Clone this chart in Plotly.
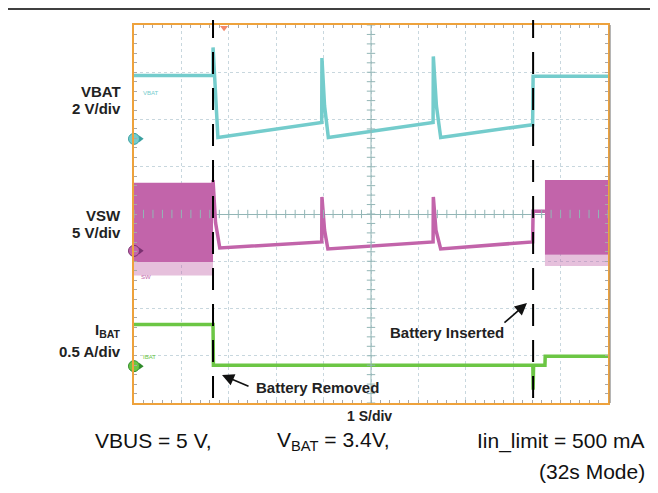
import plotly.graph_objects as go

# ---------------- data (time in s, 1 S/div, 10 div) ----------------
# channel settings: volts (or amps) per division and ground offset (divisions from centre)
VBAT_SCALE, VBAT_OFFSET = 2.0, 1.59
VSW_SCALE, VSW_OFFSET = 5.0, -0.78
IBAT_SCALE, IBAT_OFFSET = 0.5, -3.22

vbat_t = [0.0, 1.667, 1.668, 1.72, 1.77, 3.96, 3.965, 4.02, 4.10, 6.31, 6.315, 6.38, 6.47, 8.41, 8.42, 10.0]
vbat_v = [2.68, 2.68, 3.87, 1.60, 0.06, 0.69, 3.42, 1.40, 0.06, 0.69, 3.49, 1.40, 0.06, 0.60, 2.65, 2.65]

vsw_t = [1.667, 1.72, 1.81, 3.96, 3.965, 4.02, 4.09, 6.31, 6.315, 6.37, 6.47, 8.41, 8.42, 8.67]
vsw_v = [7.5, 3.0, 0.30, 0.95, 5.7, 2.2, 0.20, 0.95, 5.7, 2.2, 0.20, 0.95, 4.2, 4.2]

# switching bands (before removal / after insertion)
band1_t = [0.0, 1.667]
band1_hi = [7.2, 7.2]
band1_lo = [-1.17, -1.17]
band1_rag = [-2.6, -2.6]
band2_t = [8.67, 10.0]
band2_hi = [7.5, 7.5]
band2_lo = [-0.42, -0.42]
band2_rag = [-1.6, -1.6]

ibat_t = [0.0, 1.667, 1.675, 8.415, 8.42, 8.43, 8.67, 8.675, 10.0]
ibat_a = [0.44, 0.44, 0.01, 0.01, -0.25, 0.01, 0.01, 0.105, 0.105]

removed_t = 1.667
inserted_t = 8.42
trigger_t = 1.9

CYAN = "#74cccc"
MAGENTA = "#c264aa"
GREEN = "#6cc644"
ORANGE = "#eea23c"
FONT = "Liberation Sans, Arial, sans-serif"


def to_div(vals, scale, offset):
    return [offset + v / scale for v in vals]


fig = go.Figure()


def band(t, hi, lo, color, opacity):
    xs = list(t) + list(t)[::-1]
    ys = to_div(hi, VSW_SCALE, VSW_OFFSET) + to_div(lo, VSW_SCALE, VSW_OFFSET)[::-1]
    fig.add_trace(go.Scatter(x=xs, y=ys, fill="toself", mode="lines", line=dict(width=0),
                             fillcolor=color, opacity=opacity, hoverinfo="skip", showlegend=False))


band(band1_t, band1_lo, band1_rag, MAGENTA, 0.4)
band(band1_t, band1_hi, band1_lo, MAGENTA, 1.0)
band(band2_t, band2_lo, band2_rag, MAGENTA, 0.4)
band(band2_t, band2_hi, band2_lo, MAGENTA, 1.0)

fig.add_trace(go.Scatter(x=vsw_t, y=to_div(vsw_v, VSW_SCALE, VSW_OFFSET), mode="lines",
                         line=dict(color=MAGENTA, width=3.5), name="VSW", showlegend=False))
fig.add_trace(go.Scatter(x=vbat_t, y=to_div(vbat_v, VBAT_SCALE, VBAT_OFFSET), mode="lines",
                         line=dict(color=CYAN, width=3.5), name="VBAT", showlegend=False))
fig.add_trace(go.Scatter(x=ibat_t, y=to_div(ibat_a, IBAT_SCALE, IBAT_OFFSET), mode="lines",
                         line=dict(color=GREEN, width=3.5), name="IBAT", showlegend=False))

# centre-line minor ticks (graticule decoration)
CENTER = "#93b6b6"
minor_x = [i * 0.2 for i in range(51)]
minor_y = [-4 + i * 0.2 for i in range(41)]
fig.add_trace(go.Scatter(x=minor_x, y=[0] * len(minor_x), mode="markers",
                         marker=dict(symbol="line-ns", size=6, line=dict(color=CENTER, width=1)),
                         hoverinfo="skip", showlegend=False))
fig.add_trace(go.Scatter(x=[5] * len(minor_y), y=minor_y, mode="markers",
                         marker=dict(symbol="line-ew", size=6, line=dict(color=CENTER, width=1)),
                         hoverinfo="skip", showlegend=False))

# ground markers (on the left graticule edge)
for off, col, dark in [(VBAT_OFFSET, CYAN, "#3aa0a0"), (VSW_OFFSET, MAGENTA, "#7a3070"),
                       (IBAT_OFFSET, GREEN, "#2f8a2a")]:
    fig.add_trace(go.Scatter(x=[0.14], y=[off], mode="markers", cliponaxis=False,
                             marker=dict(symbol="triangle-right", size=6, color=dark),
                             hoverinfo="skip", showlegend=False))
    fig.add_trace(go.Scatter(x=[0.0], y=[off], mode="markers", cliponaxis=False,
                             marker=dict(symbol="circle", size=11, color=col, line=dict(color=dark, width=1)),
                             hoverinfo="skip", showlegend=False))

# trigger marker
fig.add_trace(go.Scatter(x=[trigger_t], y=[3.94], mode="markers", cliponaxis=False,
                         marker=dict(symbol="triangle-down", size=7, color="#f2876a"),
                         hoverinfo="skip", showlegend=False))

shapes = [
    dict(type="line", xref="x", yref="paper", x0=5, x1=5, y0=0, y1=1, line=dict(color=CENTER, width=1)),
    dict(type="line", xref="x", yref="paper", x0=removed_t, x1=removed_t, y0=0.013, y1=1.013,
         line=dict(color="black", width=2, dash="22px,14px")),
    dict(type="line", xref="x", yref="paper", x0=inserted_t, x1=inserted_t, y0=0.013, y1=1.013,
         line=dict(color="black", width=2, dash="22px,14px")),
    dict(type="line", xref="paper", yref="paper", x0=-0.27, x1=1.1055, y0=1.0423, y1=1.0423,
         line=dict(color="black", width=1.5)),
    dict(type="line", xref="paper", yref="paper", x0=1.0045, x1=1.0045, y0=0, y1=1,
         line=dict(color="#8a8a8a", width=1)),
]

ann = []


def lab(text, x, y, size, xanchor="right", color="#222222"):
    ann.append(dict(text=text, x=x, y=y, xref="paper", yref="paper", showarrow=False,
                    xanchor=xanchor, yanchor="middle", font=dict(family=FONT, size=size, color=color)))


lab("<b>VBAT</b>", -0.0232, 0.823, 15)
lab("<b>2 V/div</b>", -0.0232, 0.780, 15)
lab("<b>VSW</b>", -0.0232, 0.496, 15)
lab("<b>5 V/div</b>", -0.0232, 0.452, 15)
lab("<b>I<sub>BAT</sub></b>", -0.0232, 0.192, 15)
lab("<b>0.5 A/div</b>", -0.0232, 0.135, 15)
lab("<b>1 S/div</b>", 0.4958, -0.0344, 14, xanchor="center")
lab("VBUS = 5 V,", -0.0865, -0.1005, 21, xanchor="left", color="#111111")
lab("V<sub>BAT</sub> = 3.4V,", 0.2975, -0.1005, 21, xanchor="left", color="#111111")
lab("Iin_limit = 500 mA", 1.0823, -0.1005, 21, xanchor="right", color="#111111")
lab("(32s Mode)", 1.0823, -0.1825, 21, xanchor="right", color="#111111")
lab("<b>Battery Removed</b>", 0.2532, (403 - 387) / 378, 15, xanchor="left")
lab("<b>Battery Inserted</b>", 0.5359, 0.1852, 15, xanchor="left")

# tiny channel tags
lab("VBAT", 0.0148, 0.820, 6, xanchor="left", color=CYAN)
lab("SW", 0.0106, 0.333, 6, xanchor="left", color=MAGENTA)
lab("IBAT", 0.0148, 0.122, 6, xanchor="left", color=GREEN)

# arrows
ann.append(dict(x=1.857, y=-3.407, xref="x", yref="y", ax=28, ay=12, text=" ", showarrow=True,
                font=dict(size=1), arrowhead=2, arrowsize=1.5, arrowwidth=1.6, arrowcolor="#111111", standoff=0))
ann.append(dict(x=8.29, y=-1.884, xref="x", yref="y", ax=-24, ay=21, text=" ", showarrow=True,
                font=dict(size=1), arrowhead=2, arrowsize=1.5, arrowwidth=1.6, arrowcolor="#111111", standoff=0))

axis_common = dict(dtick=1, showgrid=True, gridcolor="#c8d7de", griddash="dot", gridwidth=1,
                   showline=True, linecolor=ORANGE, linewidth=2, mirror="ticks",
                   ticks="inside", ticklen=3, tickcolor="#a8a8a8", showticklabels=False,
                   minor=dict(dtick=0.2, ticks="inside", ticklen=3, tickcolor="#a8a8a8", showgrid=False),
                   fixedrange=True)

# page body has an 8px margin, so the figure is sized/margined to land on the reference pixels
fig.update_layout(
    width=650, height=485,
    margin=dict(l=126, r=50, t=17, b=90),
    paper_bgcolor="white", plot_bgcolor="white",
    shapes=shapes, annotations=ann, showlegend=False,
    xaxis=dict(range=[0, 10], zeroline=False, **axis_common),
    yaxis=dict(range=[-4, 4], zeroline=True, zerolinecolor=CENTER, zerolinewidth=1, **axis_common),
)

fig.write_html("out.html", config={"displayModeBar": False})
